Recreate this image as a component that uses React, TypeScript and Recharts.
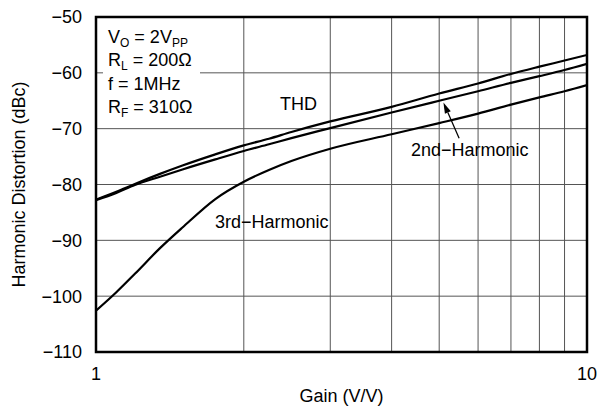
import { LineChart, Line, XAxis, YAxis, CartesianGrid, ReferenceArea, ReferenceLine } from "recharts";

const gains = [1, 1.1, 1.2, 1.35, 1.5, 1.75, 2, 2.25, 2.5, 3, 4, 5, 6, 7, 8, 9, 10];
const thd = [-82.7, -81.3, -79.9, -78.1, -76.6, -74.6, -73.0, -71.8, -70.6, -68.7, -66.1, -63.7, -61.9, -60.2, -58.9, -57.8, -56.8];
const second = [-82.8, -81.5, -80.1, -78.6, -77.3, -75.5, -74.0, -72.8, -71.7, -69.9, -67.1, -65.0, -63.3, -61.8, -60.6, -59.5, -58.4];
const third = [-102.6, -99.3, -96.0, -91.4, -87.7, -82.6, -79.5, -77.4, -75.8, -73.6, -71.0, -69.0, -67.3, -65.7, -64.4, -63.3, -62.2];

const xTicks = [1, 2, 3, 4, 5, 6, 7, 8, 9, 10];
const yTicks = [-110, -100, -90, -80, -70, -60, -50];

const data = gains.map((g, i) => ({ gain: g, thd: thd[i], second: second[i], third: third[i] }));

const FONT = "'Liberation Sans', Arial, Helvetica, sans-serif";
const FS = 18;

// arrow pointing at the 2nd-harmonic curve, head is the first point
const Arrow = (props: any) => {
  const { x1, y1, x2, y2 } = props;
  const ang = Math.atan2(y1 - y2, x1 - x2);
  const len = 11;
  const w = 3.2;
  const bx = x1 - len * Math.cos(ang);
  const by = y1 - len * Math.sin(ang);
  const px = -Math.sin(ang) * w;
  const py = Math.cos(ang) * w;
  return (
    <g>
      <line x1={x2} y1={y2} x2={bx} y2={by} stroke="#000" strokeWidth={1.3} />
      <polygon points={`${x1},${y1} ${bx + px},${by + py} ${bx - px},${by - py}`} fill="#000" />
    </g>
  );
};

export default function App() {
  const tickStyle = { fill: "#000", fontSize: FS, fontFamily: FONT };
  return (
    <div style={{ position: "absolute", left: 0, top: 0, width: 606, height: 411, background: "#fff" }}>
      <LineChart width={606} height={411} data={data} margin={{ top: 17, right: 19, bottom: 0, left: 0 }}>
        <CartesianGrid stroke="#555" strokeWidth={1} />
        <XAxis
          dataKey="gain"
          type="number"
          scale="log"
          domain={[1, 10]}
          ticks={xTicks}
          allowDataOverflow
          tickFormatter={(v: number) => (v === 1 || v === 10 ? String(v) : "")}
          height={59}
          tickLine={false}
          axisLine={false}
          tickMargin={9}
          tick={tickStyle}
          label={{ value: "Gain (V/V)", position: "insideBottom", offset: 9, fill: "#000", fontSize: FS, fontFamily: FONT }}
        />
        <YAxis
          type="number"
          domain={[-110, -50]}
          ticks={yTicks}
          width={96}
          tickLine={false}
          axisLine={false}
          tickMargin={8}
          tick={tickStyle}
          tickFormatter={(v: number) => String(v).replace("-", "\u2212")}
          label={{
            value: "Harmonic Distortion (dBc)",
            angle: -90,
            position: "insideLeft",
            offset: 19,
            style: { textAnchor: "middle" },
            fill: "#000",
            fontSize: FS,
            fontFamily: FONT,
          }}
        />
        <ReferenceArea x1={1} x2={10} y1={-110} y2={-50} fill="none" fillOpacity={0} stroke="#000" strokeWidth={2.5} />
        <Line dataKey="thd" type="monotone" stroke="#000" strokeWidth={2.2} dot={false} isAnimationActive={false} />
        <Line dataKey="second" type="monotone" stroke="#000" strokeWidth={2.2} dot={false} isAnimationActive={false} />
        <Line dataKey="third" type="monotone" stroke="#000" strokeWidth={2.2} dot={false} isAnimationActive={false} />
        <ReferenceLine segment={[{ x: 5.1, y: -65.3 }, { x: 5.49, y: -71.7 }]} shape={Arrow} />
      </LineChart>
      <svg width={606} height={411} style={{ position: "absolute", left: 0, top: 0, pointerEvents: "none" }}>
        <g fontFamily={FONT} fontSize={FS} fill="#000">
          <rect x={103} y={24} width={97} height={97} fill="#fff" />
          <text x={108} y={43}>
            V<tspan dy={4} fontSize={12}>O</tspan>
            <tspan dy={-4}> = 2V</tspan>
            <tspan dy={4} fontSize={12}>PP</tspan>
          </text>
          <text x={108} y={66}>
            R<tspan dy={4} fontSize={12}>L</tspan>
            <tspan dy={-4}> = 200Ω</tspan>
          </text>
          <text x={108} y={90}>f = 1MHz</text>
          <text x={108} y={113}>
            R<tspan dy={4} fontSize={12}>F</tspan>
            <tspan dy={-4}> = 310Ω</tspan>
          </text>
          <text x={280} y={110}>THD</text>
          <text x={411} y={156}>2nd−Harmonic</text>
          <text x={215} y={228}>3rd−Harmonic</text>
        </g>
      </svg>
    </div>
  );
}
